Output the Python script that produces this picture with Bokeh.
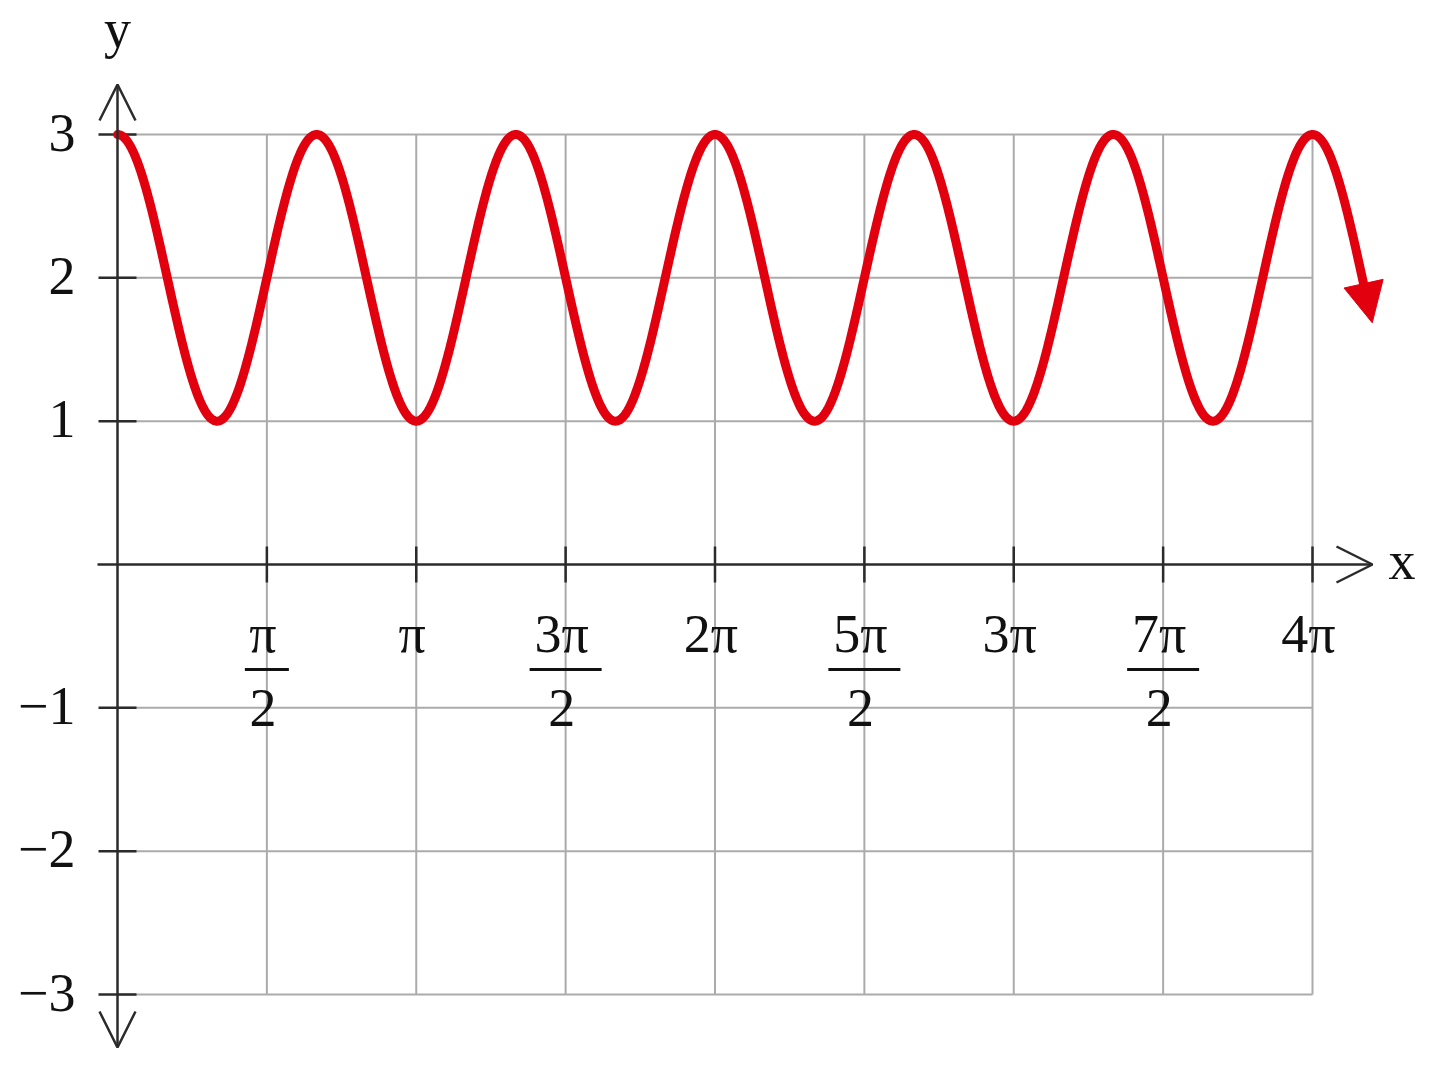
import numpy as np
from bokeh.plotting import figure
from bokeh.models import Range1d, Arrow, NormalHead, OpenHead
from bokeh.core.properties import value
from bokeh.embed import file_html
from bokeh.resources import INLINE

PI = np.pi

# ---- data: y = midline + amplitude * cos(freq * x)
midline = 2.0
amplitude = 1.0
freq = 3.0
x_curve_end = 4.171 * PI

# ticks
x_tick_mult = [0.5, 1, 1.5, 2, 2.5, 3, 3.5, 4]          # multiples of pi
x_tick_num = ["π", "π", "3π", "2π", "5π", "3π", "7π", "4π"]
x_tick_is_frac = [True, False, True, False, True, False, True, False]
y_ticks = [-3, -2, -1, 1, 2, 3]
y_tick_labels = ["−3", "−2", "−1", "1", "2", "3"]

# ---- styling
FONT = value("Liberation Serif")
FS = "54px"
RED = "#e2000f"
AXIS = "#2b2b2b"
GRID = "#ababab"
TXT = "#111111"
TY = -20   # baseline correction of the svg text

W, H = 1424, 1055
OX, OY = 0, 0
# ranges chosen so that x=0 -> 117px, 4pi -> 1312px; y=3 -> 134px, y=-3 -> 994px
kx = 1195 / (4 * PI)
ky = 860 / 6
x0 = -(117 - OX) / kx
x1 = x0 + W / kx
y1 = (564 - OY) / ky
y0 = y1 - H / ky

p = figure(width=W, height=H, x_range=Range1d(x0, x1), y_range=Range1d(y0, y1),
           output_backend="svg", toolbar_location=None, min_border=0)
p.axis.visible = False
p.grid.visible = False
p.outline_line_color = None
p.background_fill_color = "white"
p.border_fill_color = "white"

xt = [m * PI for m in x_tick_mult]

# grid
p.segment(x0=xt, y0=[-3] * len(xt), x1=xt, y1=[3] * len(xt), line_color=GRID, line_width=2)
p.segment(x0=[0] * len(y_ticks), y0=y_ticks, x1=[4 * PI] * len(y_ticks), y1=y_ticks,
          line_color=GRID, line_width=2)

# axes with arrows
p.add_layout(Arrow(end=OpenHead(size=36, line_color=AXIS, line_width=2.5),
                   x_start=-20 / kx, y_start=0, x_end=(1372 - 117) / kx, y_end=0,
                   line_color=AXIS, line_width=2.5))
p.add_layout(Arrow(start=OpenHead(size=36, line_color=AXIS, line_width=2.5),
                   end=OpenHead(size=36, line_color=AXIS, line_width=2.5),
                   x_start=0, y_start=-(1047 - 564) / ky, x_end=0, y_end=(564 - 84) / ky,
                   line_color=AXIS, line_width=2.5))

# tick marks
p.segment(x0=xt, y0=[-18 / ky] * len(xt), x1=xt, y1=[18 / ky] * len(xt),
          line_color=AXIS, line_width=2.5)
p.segment(x0=[-19 / kx] * len(y_ticks), y0=y_ticks, x1=[19 / kx] * len(y_ticks), y1=y_ticks,
          line_color=AXIS, line_width=2.5)

# y tick labels
p.text(x=[-42 / kx] * len(y_ticks), y=y_ticks, text=y_tick_labels, text_font=FONT,
       text_font_size=FS, text_align="right", text_baseline="alphabetic",
       y_offset=18 + TY, text_color=TXT)

# x tick labels (numerators / whole multiples)
p.text(x=xt, y=[0] * len(xt), text=x_tick_num, text_font=FONT, text_font_size=FS,
       text_align="center", text_baseline="alphabetic", y_offset=89 + TY, x_offset=-4,
       text_color=TXT)
frac_x = [x for x, f in zip(xt, x_tick_is_frac) if f]
frac_w = [(44 if n == "π" else 72) / kx for n, f in zip(x_tick_num, x_tick_is_frac) if f]
bar_y = -(669 - 564) / ky
p.segment(x0=[x - w / 2 for x, w in zip(frac_x, frac_w)], y0=[bar_y] * len(frac_x),
          x1=[x + w / 2 for x, w in zip(frac_x, frac_w)], y1=[bar_y] * len(frac_x),
          line_color=TXT, line_width=3)
p.text(x=frac_x, y=[0] * len(frac_x), text=["2"] * len(frac_x), text_font=FONT,
       text_font_size=FS, text_align="center", text_baseline="alphabetic",
       y_offset=163 + TY, x_offset=-4, text_color=TXT)

# axis names
p.text(x=[0], y=[0], text=["y"], text_font=FONT, text_font_size=FS, text_align="center",
       text_baseline="alphabetic", y_offset=48 - 564 + TY, text_color=TXT)
p.text(x=[(1388 - 117) / kx], y=[0], text=["x"], text_font=FONT, text_font_size=FS,
       text_align="left", text_baseline="alphabetic", y_offset=16 + TY, text_color=TXT)

# curve
xs = np.linspace(0, x_curve_end, 1500)
ys = midline + amplitude * np.cos(freq * xs)
p.line(xs, ys, line_color=RED, line_width=9, line_join="round", line_cap="round")

# arrow head along the tangent at the end of the curve
xe = x_curve_end
ye = midline + amplitude * np.cos(freq * xe)
dyd = -amplitude * freq * np.sin(freq * xe)
vx, vy = kx * 1.0, ky * dyd
norm = np.hypot(vx, vy)
head_len = 40
tip_x = xe + (vx / norm) * head_len / kx
tip_y = ye + (vy / norm) * head_len / ky
p.add_layout(Arrow(end=NormalHead(size=head_len, fill_color=RED, line_color=RED, line_width=1),
                   x_start=xe, y_start=ye, x_end=tip_x, y_end=tip_y,
                   line_color=RED, line_width=9, line_alpha=0.0))

open("out.html", "w").write(file_html(p, INLINE))
